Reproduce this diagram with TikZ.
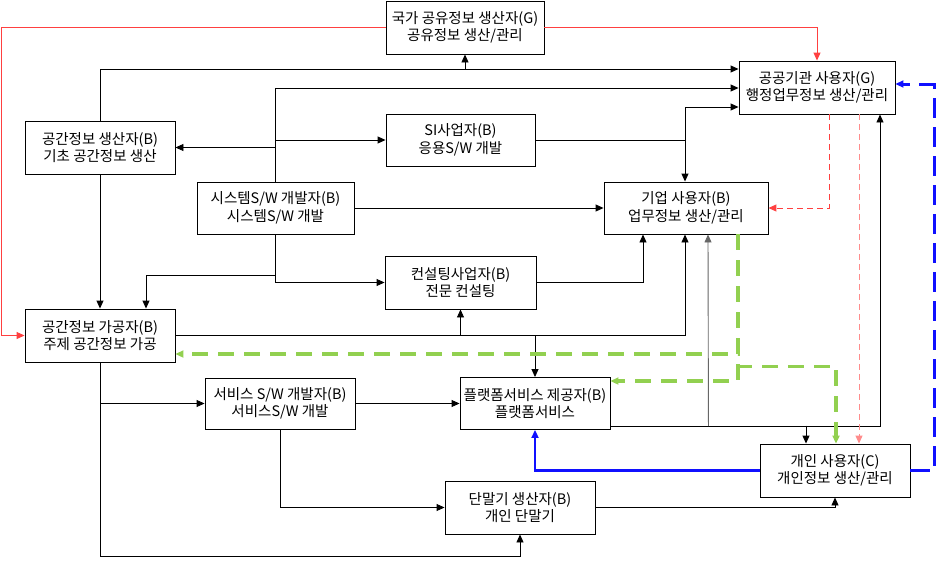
\documentclass[tikz,border=0pt]{standalone}
\usepackage{fontspec}
\setmainfont{Noto Sans CJK KR}
\usetikzlibrary{arrows.meta,calc}
\definecolor{lred}{HTML}{FF4040}
\definecolor{pred}{HTML}{FF8C8C}
\definecolor{lgreen}{HTML}{92D050}
\definecolor{dblue}{HTML}{1010FF}
\begin{document}
\begin{tikzpicture}[x=1pt,y=-1pt,
  box/.style={draw,line width=0.9pt,fill=white,align=center,inner sep=1pt,
    font=\fontsize{14.5pt}{17.5pt}\selectfont},
  tip/.style={-{Triangle[length=8pt,width=7pt]}},
  arr/.style={tip,line width=0.9pt,draw=black},
  garr/.style={tip,line width=3.2pt,draw=lgreen,dash pattern=on 16pt off 10pt},
  rarr/.style={tip,line width=1pt,draw=lred},
  rdarr/.style={tip,line width=1pt,draw=lred,dash pattern=on 6pt off 4pt},
  pdarr/.style={tip,line width=1pt,draw=pred,dash pattern=on 6pt off 4pt},
  barr/.style={tip,line width=2.8pt,draw=dblue},
  bdarr/.style={tip,line width=3pt,draw=dblue,dash pattern=on 20pt off 9pt}]
\useasboundingbox (0,0) rectangle (937,560);

\node[box,minimum width=158pt,minimum height=53pt] (G) at (465,27.5) {국가 공유정보 생산자(G)\\공유정보 생산/관리};
\node[box,minimum width=156pt,minimum height=53pt] (Gpub) at (817,87.5) {공공기관 사용자(G)\\행정업무정보 생산/관리};
\node[box,minimum width=150pt,minimum height=53pt] (SP) at (100,147.5) {공간정보 생산자(B)\\기초 공간정보 생산};
\node[box,minimum width=149pt,minimum height=52pt] (SI) at (460.5,140) {SI사업자(B)\\응용S/W 개발};
\node[box,minimum width=157pt,minimum height=52pt] (SYS) at (275.5,208) {시스템S/W 개발자(B)\\시스템S/W 개발};
\node[box,minimum width=164pt,minimum height=52pt] (ENT) at (686,208) {기업 사용자(B)\\업무정보 생산/관리};
\node[box,minimum width=151pt,minimum height=53pt] (CON) at (460.5,282.5) {컨설팅사업자(B)\\전문 컨설팅};
\node[box,minimum width=150pt,minimum height=53pt] (PROC) at (100,335.5) {공간정보 가공자(B)\\주제 공간정보 가공};
\node[box,minimum width=150pt,minimum height=51pt] (SVC) at (280,403.5) {서비스 S/W 개발자(B)\\서비스S/W 개발};
\node[box,minimum width=150pt,minimum height=52pt] (PLAT) at (535,403.5) {플랫폼서비스 제공자(B)\\플랫폼서비스};
\node[box,minimum width=150pt,minimum height=53pt] (DEV) at (520,507.5) {단말기 생산자(B)\\개인 단말기};
\node[box,minimum width=150pt,minimum height=53pt] (IND) at (835,470.5) {개인 사용자(C)\\개인정보 생산/관리};

% red solid
\draw[rarr] (G.west) -- ++(-384,0) |- (PROC.west);
\draw[rarr] (G.east) -| (Gpub.north);

% black buses
\coordinate (busA) at (100,69);
\draw[arr] (SP.north) -- (busA) -- (busA -| Gpub.west);
\draw[arr] (busA -| G.south) -- (G.south);

\coordinate (busB) at (275.5,88);
\draw[arr] (SYS.north) -- (busB) -- (busB -| Gpub.west);
\draw[arr] (SYS.north |- SI.west) -- (SI.west);
\draw[arr] (SYS.north |- SP.east) -- (SP.east);

\coordinate (busC) at (685,140);
\draw[line width=0.9pt] (SI.east) -- (busC);
\draw[arr] (busC) |- ($(Gpub.west)+(0,19.5)$);
\draw[arr] (busC) -- (busC |- ENT.north);

\draw[arr] (SYS.east) -- (ENT.west);
\draw[arr] (SYS.south) |- ($(PROC.north)+(46,-33)$) -- ($(PROC.north)+(46,0)$);
\draw[arr] (SYS.south) |- (CON.west);
\draw[arr] (SP.south) -- (PROC.north);
\draw[arr] (CON.east) -| ($(ENT.south)+(-43,0)$);

\draw[arr] (PROC.east) -| ($(ENT.south)+(-1,0)$);
\draw[arr] (PROC.east -| CON.south) -- (CON.south);
\draw[arr] (PROC.east -| PLAT.north) -- (PLAT.north);

% platform bus
\draw[arr] ($(PLAT.east)+(0,22.5)$) -| ($(Gpub.south)+(63,0)$);
\draw[arr,draw=black!60] ($(PLAT.east)+(98,22.5)$) -- ($(ENT.south)+(22,0)$);
\draw[arr] ($(IND.north)+(-29,-18)$) -- ($(IND.north)+(-29,0)$);

% lower left
\draw[arr] (PROC.south) -- ++(0,194) -| (DEV.south);
\draw[arr] (PROC.south |- SVC.west) -- (SVC.west);
\draw[arr] (SVC.east) -- (PLAT.west);
\draw[arr] (SVC.south) |- (DEV.west);
\draw[arr] (DEV.east) -| (IND.south);

% red dashed
\draw[rdarr] ($(Gpub.south)+(12,0)$) |- (ENT.east);
\draw[pdarr] ($(Gpub.south)+(42,0)$) -- ($(IND.north)+(24,0)$);

% green dashed
\draw[garr] ($(ENT.south)+(52,0)$) |- ($(PROC.east)+(0,18.5)$);
\draw[garr] ($(ENT.south)+(52,0)$) |- ($(PLAT.east)+(0,-22.5)$);
\draw[garr] ($(ENT.south)+(52,0)$) -- ++(0,132) -| ($(IND.north)+(1,0)$);

% blue
\draw[barr] (IND.west) -| (PLAT.south);
\draw[bdarr] (IND.east) -- ++(24,0) |- ($(Gpub.east)+(0,-3.5)$);
\end{tikzpicture}
\end{document}
